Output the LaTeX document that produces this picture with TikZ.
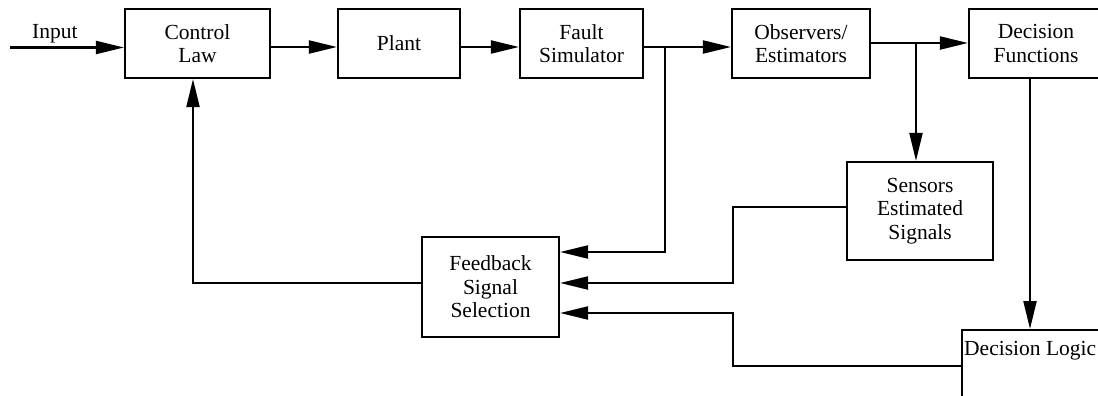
\documentclass[tikz,border=0pt]{standalone}
\usepackage{fontspec}
\setmainfont{Liberation Serif}
\usetikzlibrary{arrows.meta}
\begin{document}
\begin{tikzpicture}[x=1pt,y=-1pt,
  blk/.style={draw, line width=2.1pt, inner sep=0, align=center, font=\fontsize{21.5}{23.5}\selectfont},
  con/.style={line width=2.1pt},
  arr/.style={con, -{Triangle[length=28pt,width=13pt]}},
  lbl/.style={font=\fontsize{21.5}{23.5}\selectfont, inner sep=0}]
\clip (0,0) rectangle (1098,396);
\fill[white] (0,0) rectangle (1098,396);
% blocks
\node[blk, minimum width=145, minimum height=69] (cl) at (197.5,43.5) {Control\\Law};
\node[blk, minimum width=122, minimum height=69] (pl) at (399,43.5) {Plant};
\node[blk, minimum width=123, minimum height=69] (fs) at (581.5,43.5) {Fault\\Simulator};
\node[blk, minimum width=138, minimum height=69] (obs) at (801,43.5) {Observers/\\Estimators};
\node[blk, minimum width=134, minimum height=69] (df) at (1036,43.5) {Decision\\Functions};
\node[blk, minimum width=146, minimum height=98] (sens) at (920,211) {Sensors\\Estimated\\Signals};
\node[blk, minimum width=137, minimum height=100] (fb) at (490.5,287) {Feedback\\Signal\\Selection};
\node[blk, anchor=north west, minimum width=250, minimum height=150] (dlbox) at (961,329) {};
\node[lbl, anchor=base west] (dltxt) at (964,355) {Decision Logic};
% helper coordinates
\coordinate (in) at (10,47.5);
\node[lbl, anchor=base west] (inlbl) at (32,39) {Input};
\coordinate (r) at (0,47);
\coordinate (r2) at (0,43);
\coordinate (j1) at (665,47);
\coordinate (j2) at (916,43);
\coordinate (f1) at (0,252);
\coordinate (f2) at (0,283);
\coordinate (f3) at (0,313);
\coordinate (s1) at (0,207);
\coordinate (k) at (733,0);
\coordinate (dx) at (1030,0);
\coordinate (d1) at (0,366);
\coordinate (cx) at (193,0);
% connectors
\draw[arr] (in) -- (in -| cl.west);
\draw[arr] (cl.east |- r) -- (pl.west |- r);
\draw[arr] (pl.east |- r) -- (fs.west |- r);
\draw[arr] (fs.east |- r) -- (obs.west |- r);
\draw[arr] (obs.east |- r2) -- (df.west |- r2);
\draw[arr] (j2) -- (j2 |- sens.north);
\draw[arr] (j1) |- (fb.east |- f1);
\draw[arr] (sens.west |- s1) -- (k |- s1) -- (k |- f2) -- (fb.east |- f2);
\draw[arr] (dx |- df.south) -- (dx |- dlbox.north);
\draw[arr] (dlbox.west |- d1) -- (k |- d1) -- (k |- f3) -- (fb.east |- f3);
\draw[arr] (fb.west |- f2) -| (cx |- cl.south);
\end{tikzpicture}
\end{document}
